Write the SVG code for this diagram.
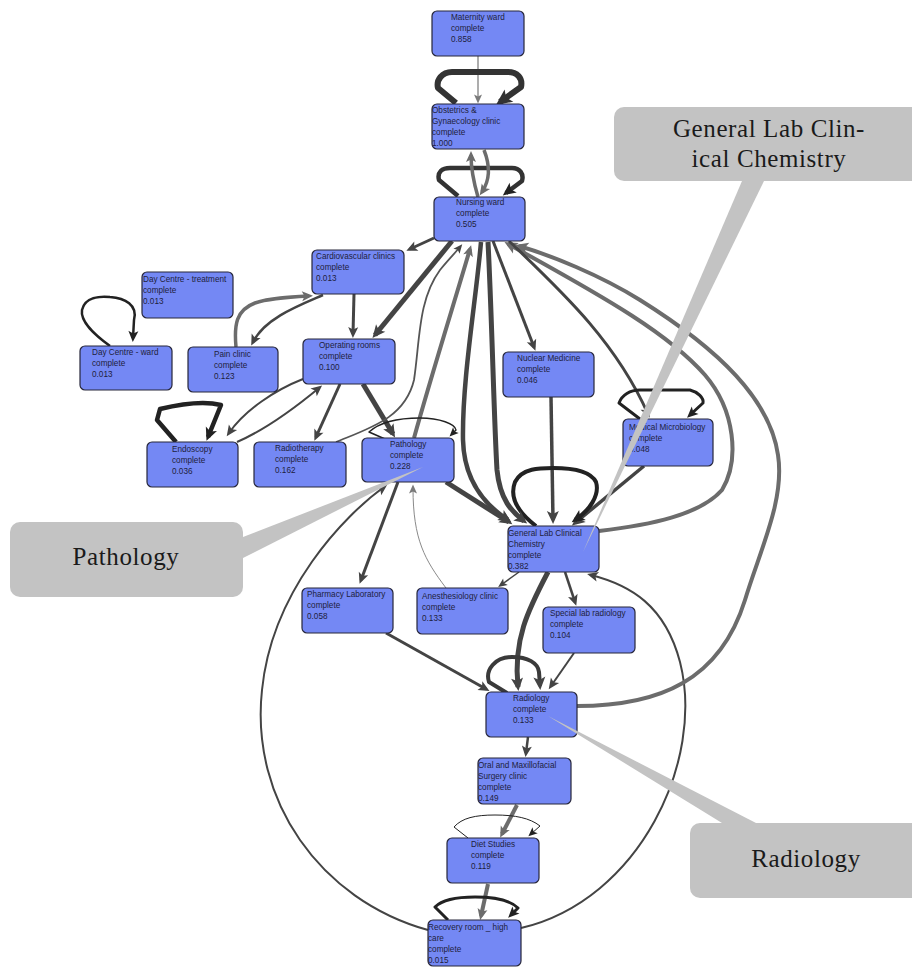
<svg xmlns="http://www.w3.org/2000/svg" width="912" height="967" viewBox="0 0 912 967">
<style>
  .node rect { fill: #7488f4; stroke: #26263a; stroke-width: 1.2; }
  .node text { font-family: "Liberation Sans", Arial, sans-serif; font-size: 8.2px; fill: #1e1e3c; }
  .e { fill: none; stroke-linecap: butt; stroke-linejoin: round; }
  .dk { stroke: #444444; }
  .gr { stroke: #6c6c6c; }
  .bk { stroke: #222222; }
  .lt { stroke: #8a8a8a; }
  .callout { fill: #c3c3c3; }
  .callout text { font-family: "Liberation Serif", "DejaVu Serif", serif; font-size: 25px; fill: #1a1a1a; letter-spacing: 0.6px; text-anchor: middle; }
</style>
<defs>
  <!-- arrowheads: colour x size, tip overshoots path end by ~4px -->
  <marker id="dkS" markerUnits="userSpaceOnUse" markerWidth="10" markerHeight="8" refX="5.5" refY="4" orient="auto" overflow="visible"><path d="M0,0 L9,4 L0,8 L2,4 z" fill="#444444"/></marker>
  <marker id="dkM" markerUnits="userSpaceOnUse" markerWidth="12" markerHeight="10" refX="7" refY="5" orient="auto" overflow="visible"><path d="M0,0 L11,5 L0,10 L2.5,5 z" fill="#444444"/></marker>
  <marker id="dkL" markerUnits="userSpaceOnUse" markerWidth="14" markerHeight="12" refX="9" refY="6" orient="auto" overflow="visible"><path d="M0,0 L13,6 L0,12 L3,6 z" fill="#444444"/></marker>
  <marker id="grS" markerUnits="userSpaceOnUse" markerWidth="10" markerHeight="8" refX="5.5" refY="4" orient="auto" overflow="visible"><path d="M0,0 L9,4 L0,8 L2,4 z" fill="#6c6c6c"/></marker>
  <marker id="grM" markerUnits="userSpaceOnUse" markerWidth="12" markerHeight="10" refX="7" refY="5" orient="auto" overflow="visible"><path d="M0,0 L11,5 L0,10 L2.5,5 z" fill="#6c6c6c"/></marker>
  <marker id="grL" markerUnits="userSpaceOnUse" markerWidth="14" markerHeight="12" refX="9" refY="6" orient="auto" overflow="visible"><path d="M0,0 L13,6 L0,12 L3,6 z" fill="#6c6c6c"/></marker>
  <marker id="bkS" markerUnits="userSpaceOnUse" markerWidth="10" markerHeight="8" refX="5.5" refY="4" orient="auto" overflow="visible"><path d="M0,0 L9,4 L0,8 L2,4 z" fill="#222222"/></marker>
  <marker id="bkM" markerUnits="userSpaceOnUse" markerWidth="12" markerHeight="10" refX="7" refY="5" orient="auto" overflow="visible"><path d="M0,0 L11,5 L0,10 L2.5,5 z" fill="#222222"/></marker>
  <marker id="bkL" markerUnits="userSpaceOnUse" markerWidth="14" markerHeight="12" refX="9" refY="6" orient="auto" overflow="visible"><path d="M0,0 L13,6 L0,12 L3,6 z" fill="#222222"/></marker>
  <marker id="bkXL" markerUnits="userSpaceOnUse" markerWidth="17" markerHeight="15" refX="11" refY="7.5" orient="auto" overflow="visible"><path d="M0,0 L16,7.5 L0,15 L3.5,7.5 z" fill="#333333"/></marker>
  <marker id="ltS" markerUnits="userSpaceOnUse" markerWidth="10" markerHeight="8" refX="5.5" refY="4" orient="auto" overflow="visible"><path d="M0,0 L9,4 L0,8 L2,4 z" fill="#7a7a7a"/></marker>
</defs>

<g id="connectors">
  <!-- Maternity ward -> Obstetrics -->
  <path class="e lt" stroke-width="1.4" d="M478,56 L478,100" marker-end="url(#ltS)"/>
  <!-- Obstetrics self loop -->
  <path class="e" stroke="#333333" stroke-width="6" d="M456,103 L438,88 C436,80 442,72 452,72 L508,72 C517,72 523,78 521,87 L500,102" marker-end="url(#bkXL)"/>
  <!-- Nursing ward self loop -->
  <path class="e" stroke="#333333" stroke-width="4.5" d="M458,196 L439,180 C437,172 442,168 450,168 L512,168 C520,168 524,174 522,181 L506,193" marker-end="url(#bkL)"/>
  <!-- Nursing ward <-> Obstetrics -->
  <path class="e gr" stroke-width="3.5" d="M478,197 C473,180 471,168 471,155" marker-end="url(#grM)"/>
  <path class="e gr" stroke-width="3.5" d="M484,150 C490,165 490,180 482,192" marker-end="url(#grM)"/>
  <!-- Nursing ward -> Cardiovascular clinics -->
  <path class="e dk" stroke-width="3" d="M434,238 L410,249" marker-end="url(#dkM)"/>
  <!-- Nursing ward -> Operating rooms -->
  <path class="e dk" stroke-width="5" d="M452,241 L375,335" marker-end="url(#dkL)"/>
  <!-- Cardiovascular clinics -> Operating rooms -->
  <path class="e dk" stroke-width="3" d="M354,294 L353,334" marker-end="url(#dkM)"/>
  <!-- Cardiovascular clinics -> Pain clinic -->
  <path class="e dk" stroke-width="2.5" d="M323,295 C300,305 265,318 253,342" marker-end="url(#dkM)"/>
  <!-- Pain clinic -> Cardiovascular clinics -->
  <path class="e gr" stroke-width="3.5" d="M236,347 C234,325 236,310 255,303 C270,298 290,297 309,296" marker-end="url(#grM)"/>
  <!-- Day Centre - ward self loop -->
  <path class="e bk" stroke-width="2.5" d="M110,346 C95,335 80,322 82,310 C85,297 100,296 110,297 C125,298 138,305 134,320 L133,338" marker-end="url(#bkM)"/>
  <!-- Endoscopy self loop -->
  <path class="e bk" stroke-width="4.5" d="M176,442 L157,420 L160,409 C185,403 205,401 221,405 L208,437" marker-end="url(#bkL)"/>
  <!-- Operating rooms -> Endoscopy -->
  <path class="e dk" stroke-width="2" d="M303,379 C275,390 245,410 229,433" marker-end="url(#dkM)"/>
  <!-- Endoscopy -> Operating rooms -->
  <path class="e dk" stroke-width="2" d="M237,442 C260,432 290,412 319,388" marker-end="url(#dkM)"/>
  <!-- Operating rooms -> Radiotherapy -->
  <path class="e dk" stroke-width="3" d="M340,384 L316,437" marker-end="url(#dkM)"/>
  <!-- Operating rooms -> Pathology -->
  <path class="e dk" stroke-width="5" d="M363,384 L393,434" marker-end="url(#dkL)"/>
  <!-- Radiotherapy -> Nursing ward -->
  <path class="e" stroke="#555555" stroke-width="1.8" d="M336,442 C370,428 405,418 414,380 C420,340 418,300 440,270 C448,260 455,253 460,247" marker-end="url(#dkS)"/>
  <!-- Pathology -> Nursing ward -->
  <path class="e gr" stroke-width="4" d="M414,438 C430,380 455,300 470,249" marker-end="url(#grM)"/>
  <!-- Pathology self loop -->
  <path class="e bk" stroke-width="1.5" d="M385,439 L369,432 C380,422 400,418 420,418 C440,418 455,424 456,430 L452,434" marker-end="url(#bkS)"/>
  <!-- Pathology -> General Lab Clinical Chemistry -->
  <path class="e dk" stroke-width="5" d="M446,482 L509,522" marker-end="url(#dkL)"/>
  <!-- Pathology -> Pharmacy Laboratory -->
  <path class="e dk" stroke-width="3" d="M398,482 L361,580" marker-end="url(#dkM)"/>
  <!-- Anesthesiology clinic -> Pathology -->
  <path class="e lt" stroke-width="1" d="M446,588 C425,560 413,540 413,488" marker-end="url(#ltS)"/>
  <!-- Recovery room -> Pathology -->
  <path class="e dk" stroke-width="2" d="M428,930 C320,900 250,800 262,690 C272,590 345,515 384,487" marker-end="url(#dkM)"/>
  <!-- General Lab -> Anesthesiology clinic -->
  <path class="e dk" stroke-width="1.5" d="M519,572 L501,585" marker-end="url(#dkS)"/>
  <!-- General Lab -> Special lab radiology -->
  <path class="e dk" stroke-width="2.5" d="M565,572 L575,602" marker-end="url(#dkM)"/>
  <!-- General Lab -> Radiology -->
  <path class="e dk" stroke-width="5" d="M548,572 C528,610 513,640 518,687" marker-end="url(#dkL)"/>
  <!-- Special lab radiology -> Radiology -->
  <path class="e dk" stroke-width="2" d="M574,653 L551,686" marker-end="url(#dkM)"/>
  <!-- Radiology self loop -->
  <path class="e" stroke="#3a3a3a" stroke-width="4" d="M507,693 L489,682 C485,670 495,657 512,657 C528,657 538,663 539,672 L540,686" marker-end="url(#dkL)"/>
  <!-- Pharmacy Laboratory -> Radiology -->
  <path class="e dk" stroke-width="3" d="M386,633 L486,689" marker-end="url(#dkM)"/>
  <!-- Radiology -> Oral and Maxillofacial -->
  <path class="e dk" stroke-width="2.5" d="M528,737 L526,753" marker-end="url(#dkM)"/>
  <!-- Oral and Maxillofacial -> Diet Studies -->
  <path class="e gr" stroke-width="4" d="M517,805 L502,834" marker-end="url(#grM)"/>
  <!-- Diet Studies self loop -->
  <path class="e bk" stroke-width="1" d="M468,838 L454,827 C462,818 475,815 495,815 C515,815 530,818 540,826 L531,834" marker-end="url(#bkS)"/>
  <!-- Diet Studies -> Recovery room -->
  <path class="e gr" stroke-width="4" d="M488,884 L481,916" marker-end="url(#grM)"/>
  <!-- Recovery room self loop -->
  <path class="e bk" stroke-width="3" d="M448,920 L435,907 C442,900 455,897 475,897 C495,897 510,900 518,908 L511,915" marker-end="url(#bkM)"/>
  <!-- Recovery room -> General Lab -->
  <path class="e dk" stroke-width="2" d="M521,928 C640,900 705,760 680,662 C665,605 630,585 591,575" marker-end="url(#dkM)"/>
  <!-- Radiology -> Nursing ward -->
  <path class="e gr" stroke-width="4" d="M577,706 C660,706 720,680 745,600 C760,550 785,500 778,455 C770,400 720,350 640,300 C600,275 550,255 519,246" marker-end="url(#grL)"/>
  <!-- General Lab -> Nursing ward -->
  <path class="e gr" stroke-width="4" d="M599,531 C650,525 700,515 722,490 C740,460 735,410 705,375 C670,335 610,300 508,244" marker-end="url(#grL)"/>
  <!-- Nursing ward -> Medical Microbiology -->
  <path class="e dk" stroke-width="3" d="M509,241 C560,290 615,340 648,414" marker-end="url(#dkM)"/>
  <!-- Medical Microbiology self loop -->
  <path class="e bk" stroke-width="3" d="M640,419 L619,403 C622,395 630,390 640,390 L690,390 C698,392 704,398 703,403 L690,415" marker-end="url(#bkM)"/>
  <!-- Medical Microbiology -> General Lab -->
  <path class="e dk" stroke-width="3.5" d="M644,466 L575,523" marker-end="url(#dkL)"/>
  <!-- Nursing ward -> Nuclear Medicine -->
  <path class="e dk" stroke-width="3" d="M493,241 L534,347" marker-end="url(#dkM)"/>
  <!-- Nuclear Medicine -> General Lab -->
  <path class="e dk" stroke-width="3.5" d="M551,397 L553,520" marker-end="url(#dkL)"/>
  <!-- General Lab self loop -->
  <path class="e bk" stroke-width="4" d="M536,526 C515,510 510,495 515,482 C522,468 540,468 553,468 C570,468 590,470 596,482 C600,495 590,510 575,520" marker-end="url(#bkL)"/>
  <!-- Nursing ward -> General Lab (two parallel routes) -->
  <path class="e dk" stroke-width="4.5" d="M481,242 C476,300 462,380 463,440 C464,480 485,505 508,520" marker-end="url(#dkL)"/>
  <path class="e dk" stroke-width="5" d="M488,242 C492,320 494,420 497,470 C500,500 512,512 524,521" marker-end="url(#dkL)"/>
</g>

<g id="nodes">
  <g id="maternity-ward" class="node"><rect x="432" y="11" width="92" height="45" rx="5"/><text x="451" y="20"><tspan x="451">Maternity ward</tspan><tspan x="451" dy="11">complete</tspan><tspan x="451" dy="11">0.858</tspan></text></g>
  <g id="obstetrics" class="node"><rect x="432" y="104" width="92" height="45" rx="5"/><text x="432" y="113"><tspan x="432">Obstetrics &amp;</tspan><tspan x="432" dy="11">Gynaecology clinic</tspan><tspan x="432" dy="11">complete</tspan><tspan x="432" dy="11">1.000</tspan></text></g>
  <g id="nursing-ward" class="node"><rect x="434" y="197" width="91" height="44" rx="5"/><text x="456" y="205"><tspan x="456">Nursing ward</tspan><tspan x="456" dy="11">complete</tspan><tspan x="456" dy="11">0.505</tspan></text></g>
  <g id="cardiovascular" class="node"><rect x="312" y="250" width="92" height="44" rx="5"/><text x="316" y="259"><tspan x="316">Cardiovascular clinics</tspan><tspan x="316" dy="11">complete</tspan><tspan x="316" dy="11">0.013</tspan></text></g>
  <g id="day-centre-treatment" class="node"><rect x="142" y="272" width="91" height="46" rx="5"/><text x="143" y="282"><tspan x="143">Day Centre - treatment</tspan><tspan x="143" dy="11">complete</tspan><tspan x="143" dy="11">0.013</tspan></text></g>
  <g id="day-centre-ward" class="node"><rect x="80" y="346" width="92" height="44" rx="5"/><text x="92" y="355"><tspan x="92">Day Centre - ward</tspan><tspan x="92" dy="11">complete</tspan><tspan x="92" dy="11">0.013</tspan></text></g>
  <g id="pain-clinic" class="node"><rect x="188" y="347" width="90" height="45" rx="5"/><text x="214" y="357"><tspan x="214">Pain clinic</tspan><tspan x="214" dy="11">complete</tspan><tspan x="214" dy="11">0.123</tspan></text></g>
  <g id="operating-rooms" class="node"><rect x="303" y="339" width="92" height="45" rx="5"/><text x="319" y="348"><tspan x="319">Operating rooms</tspan><tspan x="319" dy="11">complete</tspan><tspan x="319" dy="11">0.100</tspan></text></g>
  <g id="endoscopy" class="node"><rect x="147" y="442" width="91" height="45" rx="5"/><text x="172" y="452"><tspan x="172">Endoscopy</tspan><tspan x="172" dy="11">complete</tspan><tspan x="172" dy="11">0.036</tspan></text></g>
  <g id="radiotherapy" class="node"><rect x="254" y="442" width="92" height="45" rx="5"/><text x="275" y="451"><tspan x="275">Radiotherapy</tspan><tspan x="275" dy="11">complete</tspan><tspan x="275" dy="11">0.162</tspan></text></g>
  <g id="pathology" class="node"><rect x="362" y="438" width="92" height="44" rx="5"/><text x="390" y="447"><tspan x="390">Pathology</tspan><tspan x="390" dy="11">complete</tspan><tspan x="390" dy="11">0.228</tspan></text></g>
  <g id="nuclear-medicine" class="node"><rect x="503" y="352" width="91" height="45" rx="5"/><text x="517" y="361"><tspan x="517">Nuclear Medicine</tspan><tspan x="517" dy="11">complete</tspan><tspan x="517" dy="11">0.046</tspan></text></g>
  <g id="medical-microbiology" class="node"><rect x="623" y="419" width="90" height="47" rx="5"/><text x="629" y="430"><tspan x="629">Medical Microbiology</tspan><tspan x="629" dy="11">complete</tspan><tspan x="629" dy="11">0.048</tspan></text></g>
  <g id="general-lab" class="node"><rect x="508" y="526" width="91" height="46" rx="5"/><text x="508" y="536"><tspan x="508">General Lab Clinical</tspan><tspan x="508" dy="11">Chemistry</tspan><tspan x="508" dy="11">complete</tspan><tspan x="508" dy="11">0.382</tspan></text></g>
  <g id="pharmacy-laboratory" class="node"><rect x="302" y="588" width="91" height="45" rx="5"/><text x="307" y="597"><tspan x="307">Pharmacy Laboratory</tspan><tspan x="307" dy="11">complete</tspan><tspan x="307" dy="11">0.058</tspan></text></g>
  <g id="anesthesiology" class="node"><rect x="417" y="588" width="91" height="46" rx="5"/><text x="422" y="599"><tspan x="422">Anesthesiology clinic</tspan><tspan x="422" dy="11">complete</tspan><tspan x="422" dy="11">0.133</tspan></text></g>
  <g id="special-lab-radiology" class="node"><rect x="543" y="607" width="92" height="46" rx="5"/><text x="550" y="616"><tspan x="550">Special lab radiology</tspan><tspan x="550" dy="11">complete</tspan><tspan x="550" dy="11">0.104</tspan></text></g>
  <g id="radiology" class="node"><rect x="486" y="692" width="91" height="45" rx="5"/><text x="513" y="701"><tspan x="513">Radiology</tspan><tspan x="513" dy="11">complete</tspan><tspan x="513" dy="11">0.133</tspan></text></g>
  <g id="oral-maxillofacial" class="node"><rect x="478" y="758" width="93" height="46" rx="5"/><text x="478" y="768"><tspan x="478">Oral and Maxillofacial</tspan><tspan x="478" dy="11">Surgery clinic</tspan><tspan x="478" dy="11">complete</tspan><tspan x="478" dy="11">0.149</tspan></text></g>
  <g id="diet-studies" class="node"><rect x="447" y="838" width="92" height="45" rx="5"/><text x="471" y="847"><tspan x="471">Diet Studies</tspan><tspan x="471" dy="11">complete</tspan><tspan x="471" dy="11">0.119</tspan></text></g>
  <g id="recovery-room" class="node"><rect x="428" y="920" width="93" height="46" rx="5"/><text x="428" y="930"><tspan x="428">Recovery room _ high</tspan><tspan x="428" dy="11">care</tspan><tspan x="428" dy="11">complete</tspan><tspan x="428" dy="11">0.015</tspan></text></g>
</g>

<g id="callouts">
  <g id="callout-general-lab" class="callout">
    <path d="M742,181 L764,181 L583,552 z"/>
    <rect x="614" y="107" width="310" height="74" rx="10"/>
    <text x="769" y="137">General Lab Clin-</text>
    <text x="769" y="167">ical Chemistry</text>
  </g>
  <g id="callout-pathology" class="callout">
    <path d="M243,537 L243,558 L423,467 z"/>
    <rect x="10" y="522" width="233" height="75" rx="10"/>
    <text x="126" y="565">Pathology</text>
  </g>
  <g id="callout-radiology" class="callout">
    <path d="M722,823 L756,823 L548,716 z"/>
    <rect x="690" y="823" width="240" height="75" rx="10"/>
    <text x="806" y="867">Radiology</text>
  </g>
</g>
</svg>
